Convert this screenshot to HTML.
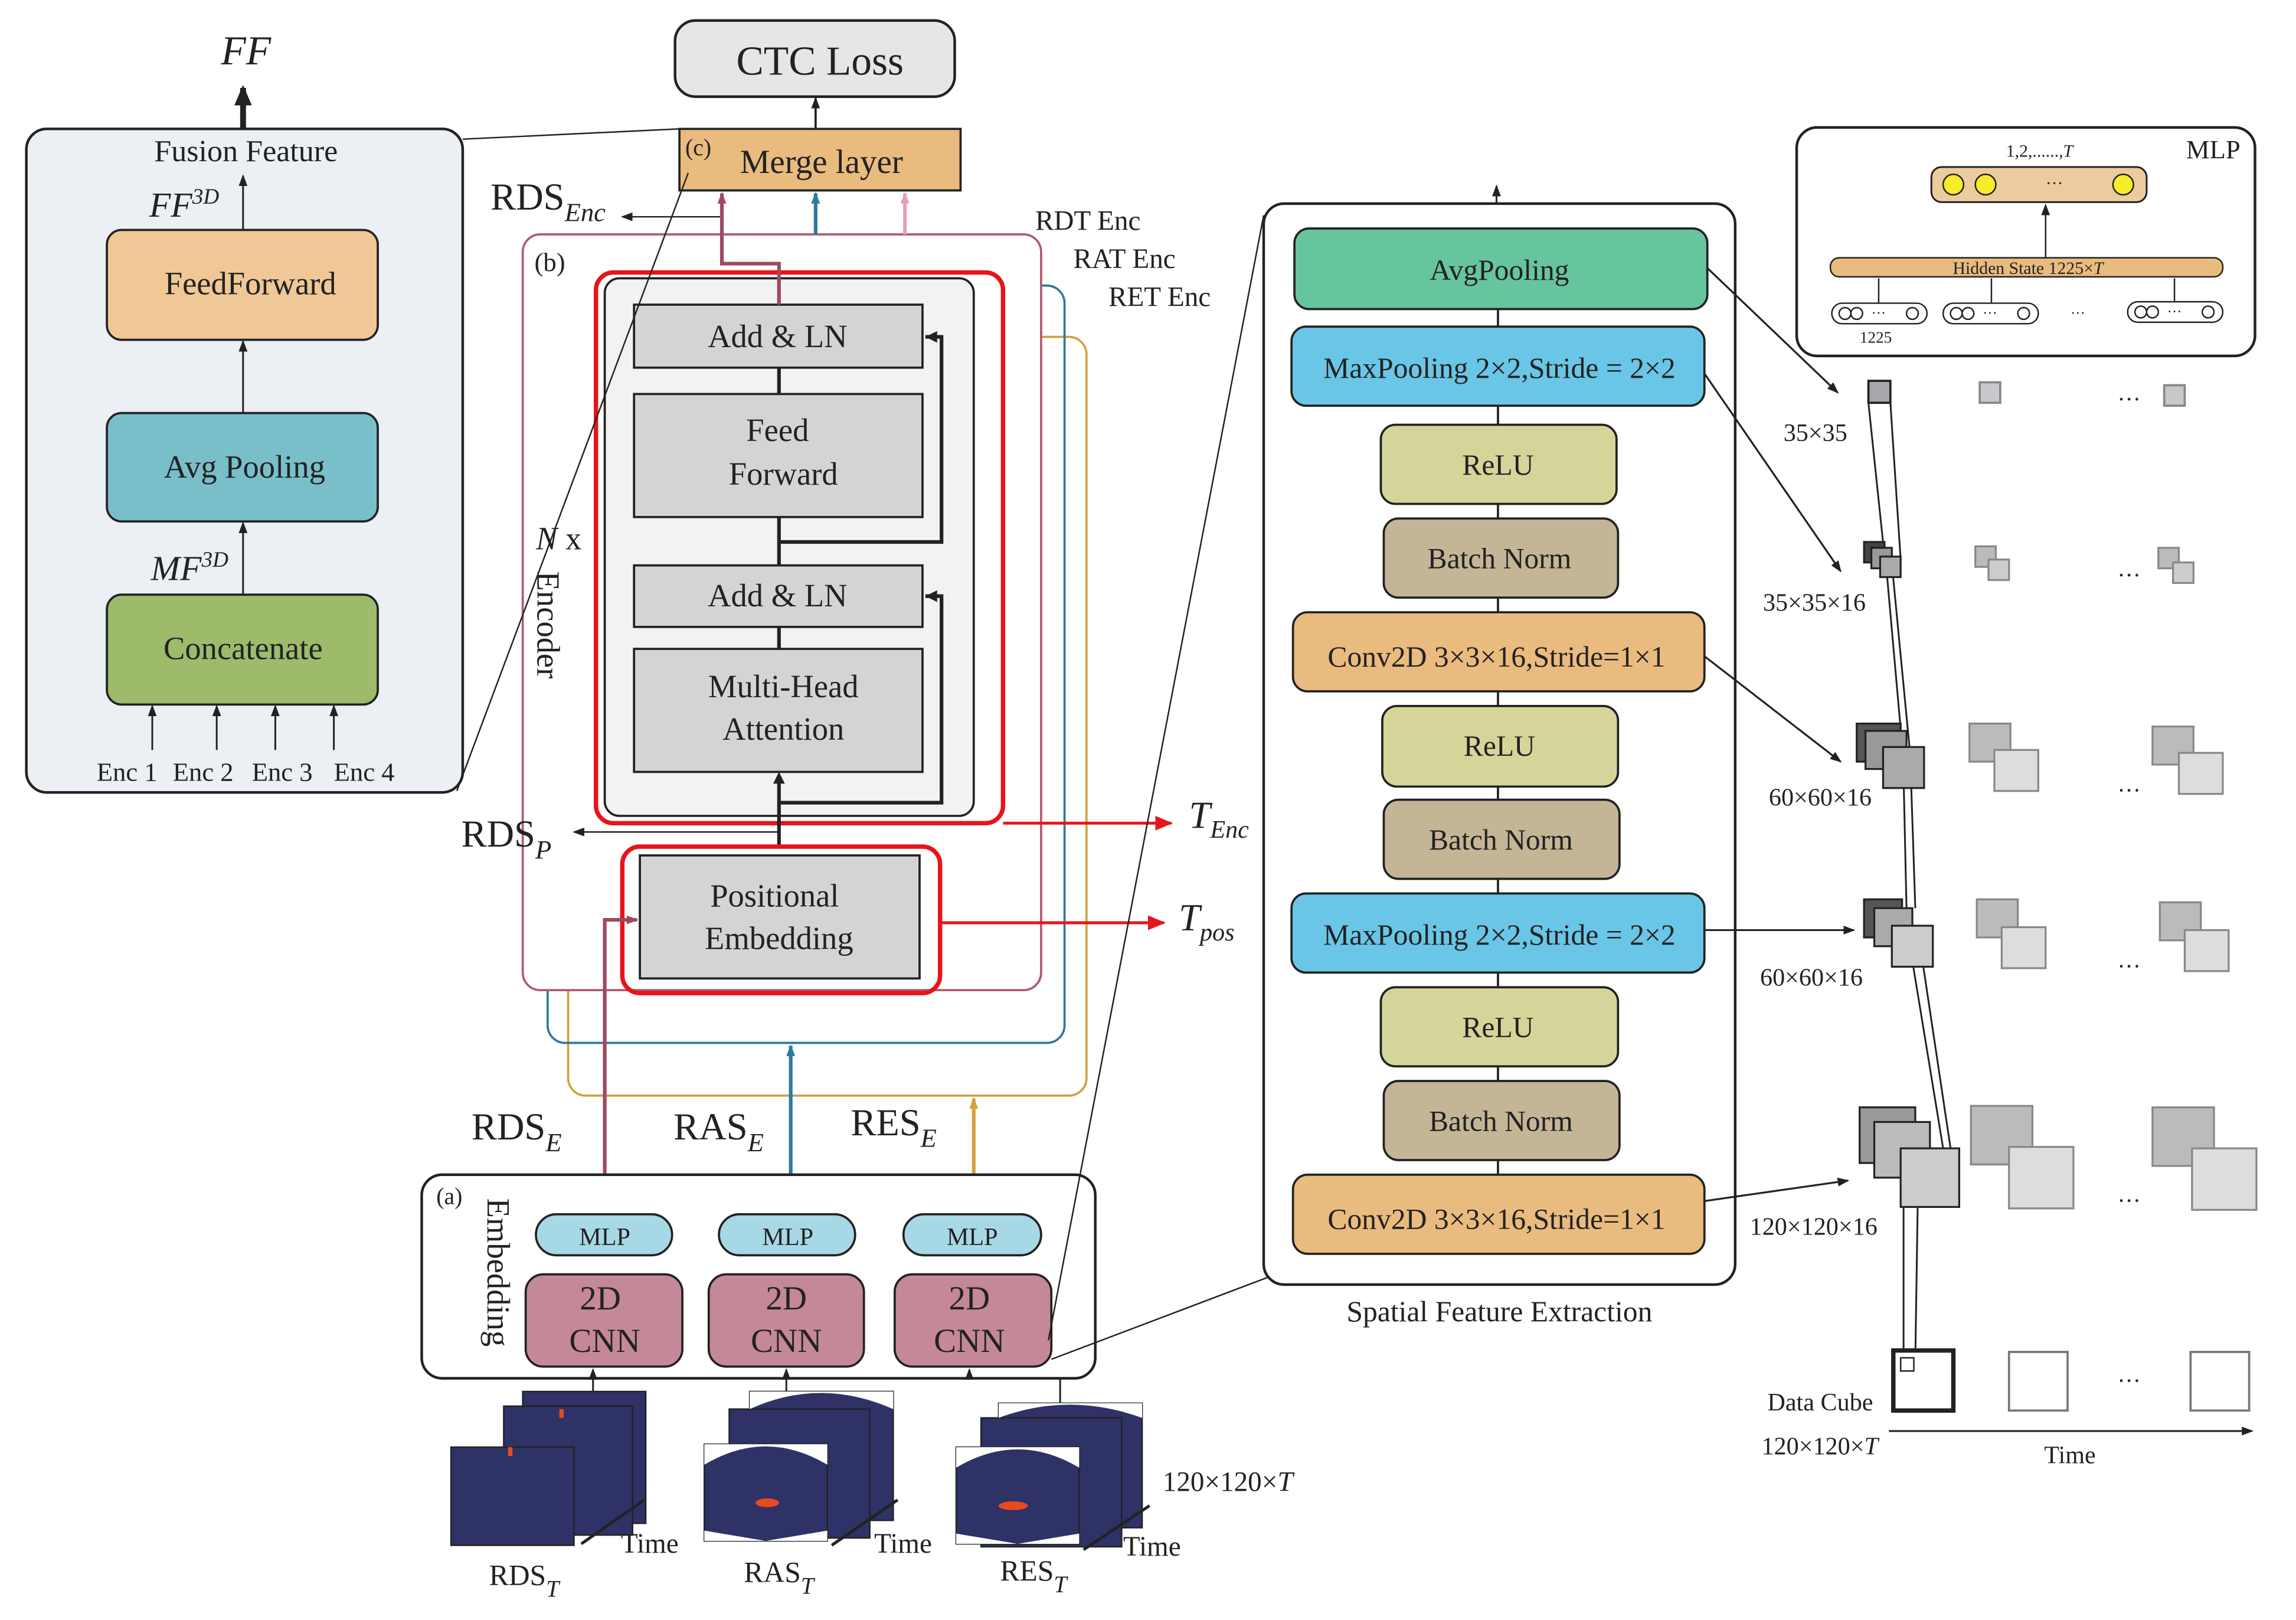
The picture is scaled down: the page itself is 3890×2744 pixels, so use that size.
<!DOCTYPE html>
<html><head><meta charset="utf-8"><style>
html,body{margin:0;padding:0;background:#fff}
svg{display:block}
text{font-family:"Liberation Serif",serif;fill:#222}
</style></head><body>
<svg width="3890" height="2744" viewBox="0 0 1568 1106" preserveAspectRatio="none" xmlns="http://www.w3.org/2000/svg">
<defs>
<marker id="a" markerWidth="8" markerHeight="8" refX="7" refY="4" orient="auto" markerUnits="userSpaceOnUse"><path d="M0,1 L8,4 L0,7 Z" fill="#222"/></marker>
<marker id="ar" markerWidth="12" markerHeight="10" refX="11" refY="5" orient="auto" markerUnits="userSpaceOnUse"><path d="M0,0 L12,5 L0,10 Z" fill="#e8141c"/></marker>
<marker id="ab" markerWidth="8" markerHeight="8" refX="7" refY="4" orient="auto" markerUnits="userSpaceOnUse"><path d="M0,1 L8,4 L0,7 Z" fill="#2c7aa0"/></marker>
<marker id="ao" markerWidth="8" markerHeight="8" refX="7" refY="4" orient="auto" markerUnits="userSpaceOnUse"><path d="M0,1 L8,4 L0,7 Z" fill="#d4a040"/></marker>
<marker id="am" markerWidth="8" markerHeight="8" refX="7" refY="4" orient="auto" markerUnits="userSpaceOnUse"><path d="M0,1 L8,4 L0,7 Z" fill="#a04860"/></marker>
<marker id="ap" markerWidth="8" markerHeight="8" refX="7" refY="4" orient="auto" markerUnits="userSpaceOnUse"><path d="M0,1 L8,4 L0,7 Z" fill="#e8a0b0"/></marker>
<marker id="ak" markerWidth="14" markerHeight="12" refX="12" refY="6" orient="auto" markerUnits="userSpaceOnUse"><path d="M0,0 L14,6 L0,12 Z" fill="#222"/></marker>
</defs>

<!-- Left panel -->
<line x1="166" y1="88" x2="166" y2="60" stroke="#222" stroke-width="4" marker-end="url(#ak)"/>
<text x="168" y="44" font-size="28" font-style="italic" text-anchor="middle">FF</text>
<rect x="18" y="88" width="298" height="453" rx="14" fill="#eceff4" stroke="#222" stroke-width="1.8"/>
<text x="168" y="110" font-size="21" text-anchor="middle">Fusion Feature</text>
<line x1="166" y1="157" x2="166" y2="120" stroke="#222" stroke-width="1.2" marker-end="url(#a)"/>
<text x="102" y="148" font-size="24" font-style="italic">FF<tspan font-size="15" dy="-9">3D</tspan></text>
<rect x="73" y="157" width="185" height="75" rx="10" fill="#f0c896" stroke="#222" stroke-width="1.5"/>
<text x="171" y="201" font-size="22" text-anchor="middle">FeedForward</text>
<line x1="166" y1="282" x2="166" y2="233" stroke="#222" stroke-width="1.2" marker-end="url(#a)"/>
<rect x="73" y="282" width="185" height="74" rx="10" fill="#79bfc9" stroke="#222" stroke-width="1.5"/>
<text x="167" y="326" font-size="22" text-anchor="middle">Avg Pooling</text>
<line x1="166" y1="406" x2="166" y2="357" stroke="#222" stroke-width="1.2" marker-end="url(#a)"/>
<text x="103" y="396" font-size="24" font-style="italic">MF<tspan font-size="15" dy="-9">3D</tspan></text>
<rect x="73" y="406" width="185" height="75" rx="10" fill="#9dbb6a" stroke="#222" stroke-width="1.5"/>
<text x="166" y="450" font-size="22" text-anchor="middle">Concatenate</text>
<g stroke="#222" stroke-width="1.2">
<line x1="104" y1="512" x2="104" y2="482" marker-end="url(#a)"/>
<line x1="148" y1="512" x2="148" y2="482" marker-end="url(#a)"/>
<line x1="188" y1="512" x2="188" y2="482" marker-end="url(#a)"/>
<line x1="228" y1="512" x2="228" y2="482" marker-end="url(#a)"/>
</g>
<text x="66" y="533" font-size="18">Enc 1</text>
<text x="118" y="533" font-size="18">Enc 2</text>
<text x="172" y="533" font-size="18">Enc 3</text>
<text x="228" y="533" font-size="18">Enc 4</text>

<!-- CTC / merge -->
<rect x="461" y="14" width="191" height="52" rx="14" fill="#e6e6e6" stroke="#222" stroke-width="1.8"/>
<text x="560" y="51" font-size="28" text-anchor="middle">CTC Loss</text>
<line x1="557" y1="88" x2="557" y2="67" stroke="#222" stroke-width="1.5" marker-end="url(#a)"/>
<rect x="464" y="88" width="192" height="42" fill="#eabb7e" stroke="#222" stroke-width="1.5"/>
<text x="468" y="106" font-size="16">(c)</text>
<text x="561" y="118" font-size="23" text-anchor="middle">Merge layer</text>
<text x="335" y="143" font-size="26">RDS<tspan font-size="18" font-style="italic" dy="8">Enc</tspan></text>
<line x1="493" y1="148" x2="425" y2="148" stroke="#222" stroke-width="1" marker-end="url(#a)"/>

<!-- encoder frames -->
<rect x="388" y="230" width="354" height="518" rx="12" fill="none" stroke="#d4a040" stroke-width="1.5"/>
<rect x="374" y="195" width="353" height="517" rx="12" fill="none" stroke="#2c7aa0" stroke-width="1.5"/>
<rect x="357" y="160" width="354" height="516" rx="12" fill="#fff" stroke="#b05a70" stroke-width="1.5"/>
<text x="707" y="157" font-size="19">RDT Enc</text>
<text x="733" y="183" font-size="19">RAT Enc</text>
<text x="757" y="209" font-size="19">RET Enc</text>
<text x="365" y="185" font-size="18">(b)</text>
<text x="366" y="375" font-size="22"><tspan font-style="italic">N</tspan> x</text>
<text transform="translate(367,390) rotate(90)" font-size="22">Encoder</text>

<rect x="407" y="186" width="278" height="376" rx="12" fill="none" stroke="#e8141c" stroke-width="3"/>
<rect x="413" y="190" width="252" height="367" rx="10" fill="#f2f2f2" stroke="#222" stroke-width="1.5"/>
<g fill="#d4d4d4" stroke="#222" stroke-width="1.5">
<rect x="433" y="208" width="197" height="43"/>
<rect x="433" y="269" width="197" height="84"/>
<rect x="433" y="386" width="197" height="42"/>
<rect x="433" y="443" width="197" height="84"/>
</g>
<text x="531" y="237" font-size="22" text-anchor="middle">Add &amp; LN</text>
<text x="531" y="301" font-size="22" text-anchor="middle">Feed</text>
<text x="535" y="331" font-size="22" text-anchor="middle">Forward</text>
<text x="531" y="414" font-size="22" text-anchor="middle">Add &amp; LN</text>
<text x="535" y="476" font-size="22" text-anchor="middle">Multi-Head</text>
<text x="535" y="505" font-size="22" text-anchor="middle">Attention</text>
<g stroke="#222" stroke-width="2.5" fill="none">
<line x1="532" y1="251" x2="532" y2="269"/>
<line x1="532" y1="386" x2="532" y2="353"/>
<line x1="532" y1="428" x2="532" y2="443"/>
<polyline points="532,370 643,370 643,230 632,230"/>
<polyline points="532,548 643,548 643,407 632,407"/>
<line x1="532" y1="578" x2="532" y2="530"/>
</g>
<path d="M632,230 l8,-4 v8z M632,407 l8,-4 v8z M532,527 l-4,8 h8z" fill="#222"/>
<polyline points="532,208 532,180 493,180 493,132" fill="none" stroke="#a04860" stroke-width="2.5" marker-end="url(#am)"/>
<line x1="557" y1="160" x2="557" y2="132" stroke="#2c7aa0" stroke-width="2.5" marker-end="url(#ab)"/>
<line x1="618" y1="160" x2="618" y2="132" stroke="#e8a0b0" stroke-width="2.5" marker-end="url(#ap)"/>

<rect x="425" y="578" width="217" height="100" rx="12" fill="none" stroke="#e8141c" stroke-width="3"/>
<rect x="437" y="584" width="191" height="84" fill="#d4d4d4" stroke="#222" stroke-width="1.5"/>
<text x="529" y="619" font-size="22" text-anchor="middle">Positional</text>
<text x="532" y="648" font-size="22" text-anchor="middle">Embedding</text>
<line x1="532" y1="568" x2="392" y2="568" stroke="#222" stroke-width="1" marker-end="url(#a)"/>
<text x="315" y="578" font-size="26">RDS<tspan font-size="18" font-style="italic" dy="8">P</tspan></text>
<line x1="685" y1="562" x2="800" y2="562" stroke="#e8141c" stroke-width="2" marker-end="url(#ar)"/>
<text x="812" y="565" font-size="26" font-style="italic">T<tspan font-size="17" dy="7">Enc</tspan></text>
<line x1="642" y1="630" x2="795" y2="630" stroke="#e8141c" stroke-width="2" marker-end="url(#ar)"/>
<text x="805" y="635" font-size="26" font-style="italic">T<tspan font-size="17" dy="7">pos</tspan></text>

<polyline points="413,830 413,628 435,628" fill="none" stroke="#a04860" stroke-width="2.5" marker-end="url(#am)"/>
<line x1="540" y1="830" x2="540" y2="714" stroke="#2c7aa0" stroke-width="2.5" marker-end="url(#ab)"/>
<line x1="665" y1="830" x2="665" y2="750" stroke="#d4a040" stroke-width="2.5" marker-end="url(#ao)"/>
<text x="322" y="778" font-size="26">RDS<tspan font-size="18" font-style="italic" dy="8">E</tspan></text>
<text x="460" y="778" font-size="26">RAS<tspan font-size="18" font-style="italic" dy="8">E</tspan></text>
<text x="581" y="775" font-size="26">RES<tspan font-size="18" font-style="italic" dy="8">E</tspan></text>

<!-- embedding -->
<rect x="288" y="802" width="460" height="139" rx="14" fill="#fff" stroke="#222" stroke-width="1.8"/>
<text x="298" y="822" font-size="16">(a)</text>
<text transform="translate(333,818) rotate(90)" font-size="22">Embedding</text>
<g fill="#a7d8e6" stroke="#222" stroke-width="1.5">
<rect x="366" y="829" width="93" height="28" rx="14"/>
<rect x="491" y="829" width="93" height="28" rx="14"/>
<rect x="617" y="829" width="94" height="28" rx="14"/>
</g>
<text x="413" y="850" font-size="17" text-anchor="middle">MLP</text>
<text x="538" y="850" font-size="17" text-anchor="middle">MLP</text>
<text x="664" y="850" font-size="17" text-anchor="middle">MLP</text>
<g fill="#c48898" stroke="#222" stroke-width="1.5">
<rect x="359" y="870" width="107" height="63" rx="12"/>
<rect x="484" y="870" width="106" height="63" rx="12"/>
<rect x="611" y="870" width="107" height="63" rx="12"/>
</g>
<g font-size="23" text-anchor="middle">
<text x="410" y="894">2D</text><text x="413" y="923">CNN</text>
<text x="537" y="894">2D</text><text x="537" y="923">CNN</text>
<text x="662" y="894">2D</text><text x="662" y="923">CNN</text>
</g>
<g stroke="#222" stroke-width="1.2" fill="none">
<line x1="405" y1="950" x2="405" y2="935" marker-end="url(#a)"/>
<line x1="537" y1="950" x2="537" y2="935" marker-end="url(#a)"/>
<polyline points="724,958 724,941 662,941 662,935" marker-end="url(#a)"/>
</g>

<!-- spectrograms -->
<g stroke="#222" stroke-width="1">
<rect x="357" y="950" width="84" height="90" fill="#2e3266"/>
<rect x="344" y="960" width="88" height="88" fill="#2e3266"/>
<rect x="308" y="988" width="84" height="67" fill="#2e3266"/>
<rect x="512" y="950" width="98" height="88" fill="#2e3266"/>
<rect x="498" y="962" width="96" height="88" fill="#2e3266"/>
<rect x="481" y="986" width="84" height="66" fill="#2e3266"/>
<rect x="682" y="958" width="98" height="85" fill="#2e3266"/>
<rect x="670" y="968" width="96" height="88" fill="#2e3266"/>
<rect x="653" y="988" width="84" height="66" fill="#2e3266"/>
</g>
<path d="M481,1045 L523,1052 L565,1045 V1052 H481Z M653,1047 L695,1054 L737,1047 V1054 H653Z" fill="#fff"/>
<path d="M481,1000 Q523,975 565,1000 V986 H481Z M653,1002 Q695,977 737,1002 V988 H653Z M512,962 Q560,940 610,962 V950 H512Z M682,968 Q730,950 780,968 V958 H682Z" fill="#fff"/>
<ellipse cx="524" cy="1026" rx="8" ry="3" fill="#e84a20"/>
<ellipse cx="692" cy="1028" rx="10" ry="3" fill="#e84a20"/>
<rect x="347" y="988" width="3" height="6" fill="#e84a20"/>
<rect x="382" y="962" width="3" height="6" fill="#e84a20"/>
<g stroke="#222" stroke-width="2">
<line x1="397" y1="1054" x2="440" y2="1024"/>
<line x1="568" y1="1055" x2="613" y2="1024"/>
<line x1="740" y1="1058" x2="785" y2="1028"/>
</g>
<g font-size="19">
<text x="424" y="1060">Time</text><text x="597" y="1060">Time</text><text x="767" y="1062">Time</text>
<text x="794" y="1018">120×120×<tspan font-style="italic">T</tspan></text>
<text x="334" y="1082" font-size="20">RDS<tspan font-size="16" font-style="italic" dy="8">T</tspan></text>
<text x="508" y="1080" font-size="20">RAS<tspan font-size="16" font-style="italic" dy="8">T</tspan></text>
<text x="683" y="1079" font-size="20">RES<tspan font-size="16" font-style="italic" dy="8">T</tspan></text>
</g>

<!-- spatial feature extraction -->
<line x1="1022" y1="139" x2="1022" y2="127" stroke="#222" stroke-width="1.2" marker-end="url(#a)"/>
<rect x="863" y="139" width="322" height="738" rx="14" fill="#fff" stroke="#222" stroke-width="1.8"/>
<line x1="1023" y1="211" x2="1023" y2="802" stroke="#222" stroke-width="1.5"/>
<g stroke="#222" stroke-width="1.5">
<rect x="884" y="156" width="282" height="55" rx="10" fill="#67c59d"/>
<rect x="882" y="223" width="282" height="54" rx="10" fill="#6ac6e6"/>
<rect x="943" y="290" width="161" height="54" rx="10" fill="#d5d59a"/>
<rect x="945" y="354" width="160" height="54" rx="10" fill="#c4b596"/>
<rect x="883" y="418" width="281" height="54" rx="10" fill="#eabb7e"/>
<rect x="944" y="482" width="161" height="55" rx="10" fill="#d5d59a"/>
<rect x="945" y="546" width="161" height="54" rx="10" fill="#c4b596"/>
<rect x="882" y="610" width="282" height="54" rx="10" fill="#6ac6e6"/>
<rect x="943" y="674" width="162" height="54" rx="10" fill="#d5d59a"/>
<rect x="945" y="738" width="161" height="54" rx="10" fill="#c4b596"/>
<rect x="883" y="802" width="281" height="54" rx="10" fill="#eabb7e"/>
</g>
<g font-size="20" text-anchor="middle">
<text x="1024" y="191">AvgPooling</text>
<text x="1024" y="258">MaxPooling 2×2,Stride = 2×2</text>
<text x="1023" y="324">ReLU</text>
<text x="1024" y="388">Batch Norm</text>
<text x="1022" y="455">Conv2D 3×3×16,Stride=1×1</text>
<text x="1024" y="516">ReLU</text>
<text x="1025" y="580">Batch Norm</text>
<text x="1024" y="645">MaxPooling 2×2,Stride = 2×2</text>
<text x="1023" y="708">ReLU</text>
<text x="1025" y="772">Batch Norm</text>
<text x="1022" y="839">Conv2D 3×3×16,Stride=1×1</text>
</g>
<text x="1024" y="902" font-size="20" text-anchor="middle">Spatial Feature Extraction</text>
<g stroke="#222" stroke-width="1.3">
<line x1="1166" y1="183" x2="1255" y2="268" marker-end="url(#a)"/>
<line x1="1164" y1="255" x2="1257" y2="390" marker-end="url(#a)"/>
<line x1="1164" y1="448" x2="1257" y2="520" marker-end="url(#a)"/>
<line x1="1164" y1="635" x2="1266" y2="635" marker-end="url(#a)"/>
<line x1="1164" y1="820" x2="1262" y2="806" marker-end="url(#a)"/>
</g>

<!-- MLP box -->
<rect x="1227" y="87" width="313" height="156" rx="14" fill="#fff" stroke="#222" stroke-width="1.8"/>
<text x="1493" y="108" font-size="18">MLP</text>
<text x="1370" y="107" font-size="12">1,2,......,<tspan font-style="italic">T</tspan></text>
<rect x="1319" y="114" width="147" height="24" rx="7" fill="#eccb9e" stroke="#222" stroke-width="1.2"/>
<circle cx="1334" cy="126" r="7" fill="#f5ec2a" stroke="#222"/>
<circle cx="1356" cy="126" r="7" fill="#f5ec2a" stroke="#222"/>
<circle cx="1450" cy="126" r="7" fill="#f5ec2a" stroke="#222"/>
<text x="1397" y="129" font-size="12">···</text>
<line x1="1397" y1="176" x2="1397" y2="140" stroke="#222" stroke-width="1" marker-end="url(#a)"/>
<rect x="1250" y="176" width="268" height="13" rx="6" fill="#eabb7e" stroke="#222" stroke-width="1"/>
<text x="1385" y="187" font-size="12" text-anchor="middle">Hidden State  1225×<tspan font-style="italic">T</tspan></text>
<g fill="#fff" stroke="#222" stroke-width="1">
<rect x="1251" y="207" width="65" height="14" rx="7"/>
<rect x="1327" y="207" width="65" height="14" rx="7"/>
<rect x="1453" y="206" width="65" height="14" rx="7"/>
<circle cx="1260" cy="214" r="4"/><circle cx="1268" cy="214" r="4"/><circle cx="1306" cy="214" r="4"/>
<circle cx="1336" cy="214" r="4"/><circle cx="1344" cy="214" r="4"/><circle cx="1382" cy="214" r="4"/>
<circle cx="1462" cy="213" r="4"/><circle cx="1470" cy="213" r="4"/><circle cx="1508" cy="213" r="4"/>
</g>
<g font-size="10"><text x="1278" y="217">···</text><text x="1354" y="217">···</text><text x="1480" y="216">···</text><text x="1414" y="217">···</text></g>
<g stroke="#222" stroke-width="1"><line x1="1283" y1="207" x2="1283" y2="190"/><line x1="1360" y1="207" x2="1360" y2="190"/><line x1="1485" y1="206" x2="1485" y2="190"/></g>
<text x="1270" y="234" font-size="11">1225</text>

<!-- cubes -->
<rect x="1276" y="260" width="15" height="15" fill="#a8a8ac" stroke="#222" stroke-width="1.5"/>
<rect x="1352" y="261" width="14" height="14" fill="#c8c8cc" stroke="#888" stroke-width="1.5"/>
<rect x="1478" y="263" width="14" height="14" fill="#c8c8cc" stroke="#888" stroke-width="1.5"/>
<g fill="none" stroke="#222" stroke-width="1.2">
<line x1="1276" y1="275" x2="1287" y2="380"/><line x1="1291" y1="275" x2="1298" y2="382"/>
<line x1="1288" y1="385" x2="1300" y2="520"/><line x1="1292" y1="385" x2="1305" y2="520"/>
<line x1="1300" y1="530" x2="1302" y2="620"/><line x1="1305" y1="530" x2="1308" y2="620"/>
<line x1="1305" y1="650" x2="1328" y2="790"/><line x1="1312" y1="650" x2="1333" y2="790"/>
<line x1="1300" y1="800" x2="1300" y2="928"/><line x1="1310" y1="800" x2="1308" y2="928"/>
</g>
<g stroke="#222" stroke-width="1.3">
<rect x="1273" y="370" width="14" height="14" fill="#444"/><rect x="1278" y="374" width="14" height="14" fill="#999"/><rect x="1284" y="380" width="14" height="14" fill="#aaa"/>
<rect x="1268" y="494" width="30" height="26" fill="#555"/><rect x="1274" y="499" width="28" height="26" fill="#999"/><rect x="1286" y="510" width="28" height="28" fill="#aaa"/>
<rect x="1273" y="614" width="26" height="26" fill="#555"/><rect x="1280" y="620" width="26" height="26" fill="#aaa"/><rect x="1292" y="632" width="28" height="28" fill="#ccc"/>
<rect x="1270" y="756" width="38" height="38" fill="#999"/><rect x="1280" y="766" width="38" height="38" fill="#bbb"/><rect x="1298" y="784" width="40" height="40" fill="#ccc"/>
</g>
<g stroke="#888" stroke-width="1.3" fill="#bbb">
<rect x="1349" y="373" width="14" height="14"/><rect x="1358" y="382" width="14" height="14" fill="#ccc"/>
<rect x="1474" y="374" width="14" height="14"/><rect x="1484" y="384" width="14" height="14" fill="#ccc"/>
<rect x="1345" y="494" width="28" height="26"/><rect x="1362" y="512" width="30" height="28" fill="#ddd"/>
<rect x="1470" y="496" width="28" height="26"/><rect x="1488" y="514" width="30" height="28" fill="#ddd"/>
<rect x="1350" y="614" width="28" height="26"/><rect x="1367" y="633" width="30" height="28" fill="#ddd"/>
<rect x="1475" y="616" width="28" height="26"/><rect x="1492" y="635" width="30" height="28" fill="#ddd"/>
<rect x="1346" y="755" width="42" height="40"/><rect x="1372" y="783" width="44" height="42" fill="#ddd"/>
<rect x="1470" y="756" width="42" height="40"/><rect x="1497" y="784" width="44" height="42" fill="#ddd"/>
</g>
<g font-size="16"><text x="1446" y="278">···</text><text x="1446" y="398">···</text><text x="1446" y="545">···</text><text x="1446" y="665">···</text><text x="1446" y="825">···</text><text x="1446" y="948">···</text></g>
<g font-size="17">
<text x="1218" y="301">35×35</text>
<text x="1204" y="417">35×35×16</text>
<text x="1208" y="550">60×60×16</text>
<text x="1202" y="673">60×60×16</text>
<text x="1195" y="843">120×120×16</text>
<text x="1207" y="963">Data Cube</text>
<text x="1203" y="993">120×120×<tspan font-style="italic">T</tspan></text>
<text x="1396" y="999">Time</text>
</g>
<rect x="1293" y="922" width="41" height="41" fill="#fff" stroke="#222" stroke-width="3"/>
<rect x="1298" y="927" width="9" height="9" fill="none" stroke="#222" stroke-width="1"/>
<rect x="1372" y="923" width="40" height="40" fill="#fff" stroke="#777" stroke-width="1.5"/>
<rect x="1496" y="923" width="40" height="40" fill="#fff" stroke="#777" stroke-width="1.5"/>
<line x1="1290" y1="977" x2="1538" y2="977" stroke="#222" stroke-width="1.3" marker-end="url(#a)"/>

<!-- overlay connector lines -->
<g stroke="#222" stroke-width="1" fill="none">
<line x1="316" y1="95" x2="464" y2="88"/>
<line x1="312" y1="540" x2="470" y2="118"/>
<line x1="718" y1="928" x2="866" y2="872"/>
<line x1="716" y1="915" x2="863" y2="147"/>
</g>
</svg>
</body></html>
